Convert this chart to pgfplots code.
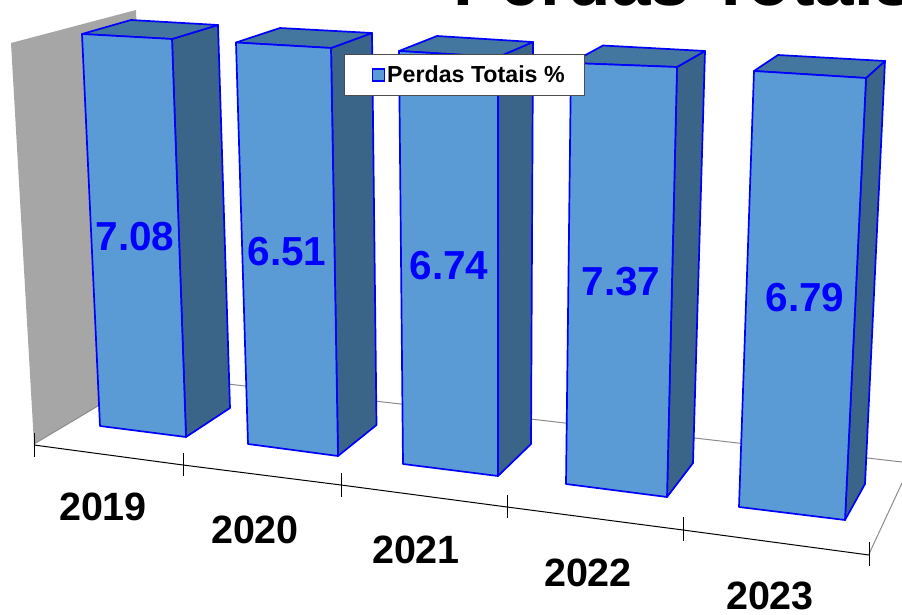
\documentclass[border=0pt]{standalone}
\usepackage{fontspec}
\setmainfont{Liberation Sans}
\usepackage{pgfplots}
\pgfplotsset{compat=1.18}
\definecolor{frontc}{HTML}{5B9BD5}
\definecolor{sidec}{HTML}{3A6488}
\definecolor{topc}{HTML}{44779F}
\definecolor{wallc}{HTML}{A6A6A6}
\definecolor{floorc}{HTML}{8C8C8C}
\newcommand{\fz}[1]{\fontsize{#1}{#1}\selectfont\bfseries}
\newcommand{\face}[2]{\addplot[fill=#1,draw=blue,line width=1.7pt,line join=round,forget plot] coordinates {#2} --cycle;}
\newcommand{\tick}[1]{\addplot[black,line width=0.7pt,forget plot] coordinates {#1};}
\begin{document}
\begin{tikzpicture}
\begin{axis}[
  scale only axis, width=902pt, height=615pt,
  xmin=0, xmax=902, ymin=0, ymax=615, y dir=reverse,
  axis lines=none, clip=true,
  legend style={at={(axis cs:344,54)},anchor=north west,draw=black!70,line width=1pt,
    fill=white,inner xsep=18pt,inner ysep=9.5pt,font=\fz{23.2}},
  legend cell align=left,
  legend image code/.code={\path[draw=none,fill=none] (0pt,0pt) -- (22pt,0pt);\draw[fill=frontc,draw=blue,line width=1.4pt] (10pt,-6pt) rectangle (22pt,6pt);},
]
% wall and floor
\addplot[fill=wallc,draw=none,forget plot] coordinates {(11,43) (136,10) (150,375) (34,444)} --cycle;
\addplot[floorc,line width=1pt,forget plot] coordinates {(34,444) (150,375)};
\addplot[floorc,line width=1pt,forget plot] coordinates {(150,375) (902,462)};
\addplot[floorc,line width=1pt,forget plot] coordinates {(869,554) (902,483)};
% front axis
\addplot[black,line width=1pt,forget plot] coordinates {(34,445) (183,465) (341,485) (507,507) (683,530) (869,555)};
\tick{(34,433) (34,457)}
\tick{(183,453) (183,476)}
\tick{(341,473) (341,497)}
\tick{(507,495) (507,518)}
\tick{(683,517) (683,541)}
\tick{(869,542) (869,566)}
% 2019
\face{sidec}{(172,39) (218,25) (230,408) (186,437)}
\face{topc}{(82,34) (131,20) (218,25) (172,39)}
\face{frontc}{(82,34) (172,39) (186,437) (100,426)}
% 2020
\face{sidec}{(331,48) (372,33) (376.5,425) (338,456)}
\face{topc}{(236,42.5) (280,28) (372,33) (331,48)}
\face{frontc}{(236,42.5) (331,48) (338,456) (248,444)}
% 2021
\face{sidec}{(498,57) (533,42) (531,444) (498,476)}
\face{topc}{(399,51) (437,36) (533,42) (498,57)}
\face{frontc}{(399,51) (498,57) (498,476) (403,464)}
% 2022
\face{sidec}{(677,67) (705,51) (693,463) (667,497)}
\face{topc}{(571,63) (603,45.5) (705,51) (677,67)}
\face{frontc}{(571,63) (677,67) (667,497) (566,484)}
% 2023
\face{sidec}{(866,78) (885,61) (865,484) (845,520)}
\face{topc}{(754,71) (778,55) (885,61) (866,78)}
\face{frontc}{(754,71) (866,78) (845,520) (739,507)}
% value labels
\addplot[draw=none,forget plot,nodes near coords,point meta=explicit symbolic,
  nodes near coords style={anchor=center,font=\fz{40.5},text=blue,inner sep=0pt}]
  coordinates {(135,237)[7.08] (287,252)[6.51] (449,266)[6.74] (621,282)[7.37] (805,298)[6.79]};
% category labels
\addplot[draw=none,forget plot,nodes near coords,point meta=explicit symbolic,
  nodes near coords style={anchor=center,font=\fz{39.5},text=black,inner sep=0pt}]
  coordinates {(103,507)[2019] (255,530)[2020] (416,550)[2021] (588,573)[2022] (770,596)[2023]};
\addlegendimage{}
\addlegendentry{Perdas Totais \%}
\node[anchor=base west,inner sep=0pt,font=\fz{71},text=black] at (axis cs:453,5.5) {Perdas Totais};
\end{axis}
\pgfresetboundingbox
\useasboundingbox (0,0) rectangle (902pt,615pt);
\end{tikzpicture}
\end{document}
